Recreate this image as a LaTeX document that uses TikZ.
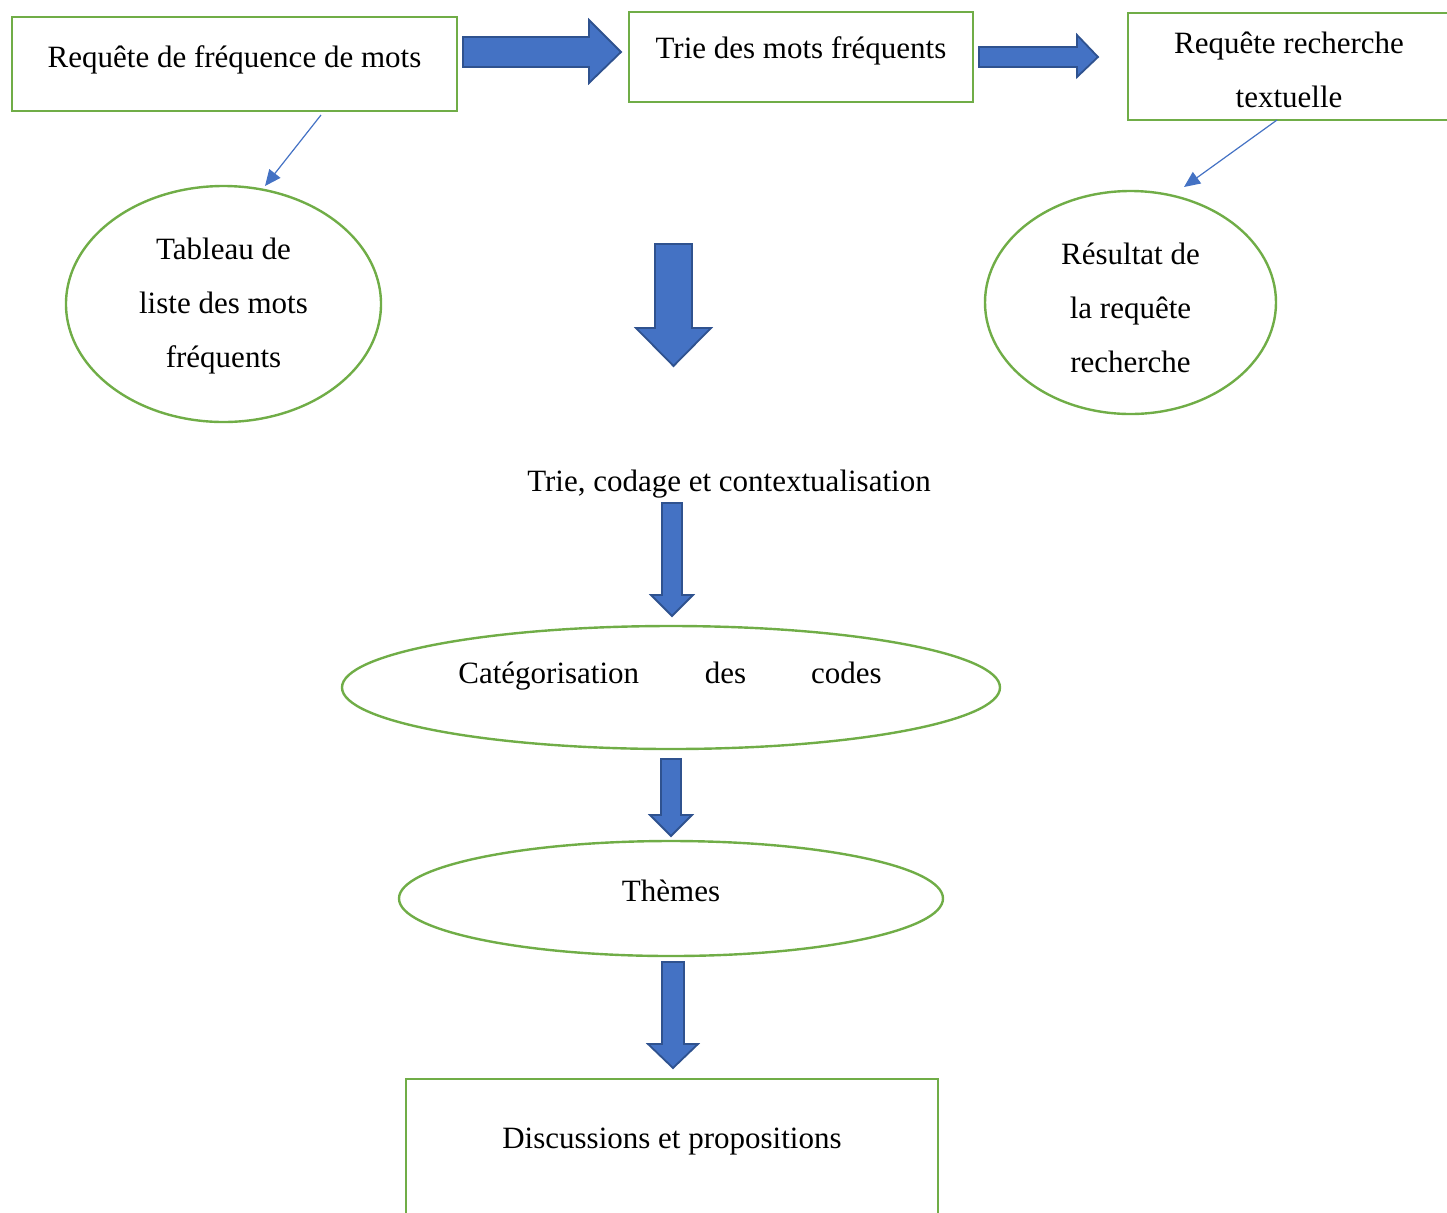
\documentclass[tikz,border=0pt]{standalone}
\usepackage{fontspec}
\setmainfont{Liberation Serif}
\usetikzlibrary{shapes.geometric,arrows.meta}
\definecolor{grn}{HTML}{70AD47}
\definecolor{blu}{HTML}{4472C4}
\definecolor{bdr}{HTML}{2F528F}
\begin{document}
\begin{tikzpicture}[x=0.5pt,y=-0.5pt,
  font=\fontsize{15.5}{27}\selectfont,
  gbox/.style={draw=grn, line width=1.2pt, inner sep=0pt},
  gell/.style={ellipse, draw=grn, line width=1.2pt, inner sep=0pt},
  lbl/.style={inner sep=0pt, align=center},
  barrow/.style={fill=blu, draw=bdr, line width=0.9pt, line join=miter},
  thinarrow/.style={draw=blu, line width=0.6pt, -{Triangle[length=8pt,width=7pt]}}]
\useasboundingbox (0,0) rectangle (1447,1212);
\clip (0,0) rectangle (1447,1212);

% top boxes
\node[gbox, minimum width=222.5pt, minimum height=47pt] (b1) at (234.5,64) {};
\node[lbl] (b1t) at (234.5,60) {Requête de fréquence de mots};
\node[gbox, minimum width=172pt, minimum height=45pt] (b2) at (801,57) {};
\node[lbl] (b2t) at (801,51) {Trie des mots fréquents};
\node[gbox, minimum width=166pt, minimum height=53.5pt] (b3) at (1294,66.5) {};
\node[lbl] (b3t) at (1289,70) {Requête recherche\\textuelle};

% block arrows (top)
\draw[barrow] (463,37) -- (589,37) -- (589,20) -- (621,52) -- (589,83) -- (589,67) -- (463,67) -- cycle;
\draw[barrow] (979,47) -- (1077,47) -- (1077,35) -- (1098,57) -- (1077,77) -- (1077,67) -- (979,67) -- cycle;

% ellipses
\node[gell, minimum width=157.5pt, minimum height=118pt] (e1) at (223.5,304) {};
\node[lbl] (e1t) at (223.5,306.5) {Tableau de\\liste des mots\\fréquents};
\node[gell, minimum width=145.5pt, minimum height=111.5pt] (e2) at (1130.5,302.5) {};
\node[lbl] (e2t) at (1130.5,308) {Résultat de\\la requête\\recherche};

% thin connectors
\coordinate (c1s) at (321,115);
\coordinate (c1e) at (265,186);
\draw[thinarrow] (c1s) -- (c1e);
\coordinate (c2s) at (1277,120);
\coordinate (c2e) at (1184,187);
\draw[thinarrow] (c2s) -- (c2e);

% down arrow 1
\draw[barrow] (655,244) -- (692,244) -- (692,328) -- (711,328) -- (673.5,366) -- (636,328) -- (655,328) -- cycle;

\node[lbl] (t1) at (729,484) {Trie, codage et contextualisation};

% down arrow 2
\draw[barrow] (662,503) -- (682,503) -- (682,595) -- (693,595) -- (672,616) -- (651,595) -- (662,595) -- cycle;

% categorisation ellipse
\node[gell, minimum width=329pt, minimum height=61.5pt] (e3) at (671,687.5) {};
\node[lbl, anchor=base west] (e3a) at (458,683) {Catégorisation};
\node[lbl, anchor=base] (e3b) at (725.5,683) {des};
\node[lbl, anchor=base east] (e3c) at (882,683) {codes};

% down arrow 3
\draw[barrow] (661,759) -- (681,759) -- (681,815) -- (692,815) -- (671,836) -- (650,815) -- (661,815) -- cycle;

% themes ellipse
\node[gell, minimum width=272pt, minimum height=57.5pt] (e4) at (671,898.5) {};
\node[lbl] (e4t) at (671,891) {Thèmes};

% down arrow 4
\draw[barrow] (662,962) -- (684,962) -- (684,1044) -- (698,1044) -- (673,1068) -- (648,1044) -- (662,1044) -- cycle;

% bottom box
\node[gbox, minimum width=266pt, minimum height=75.5pt] (b4) at (672,1154.5) {};
\node[lbl] (b4t) at (672,1142) {Discussions et propositions};
\end{tikzpicture}
\end{document}
